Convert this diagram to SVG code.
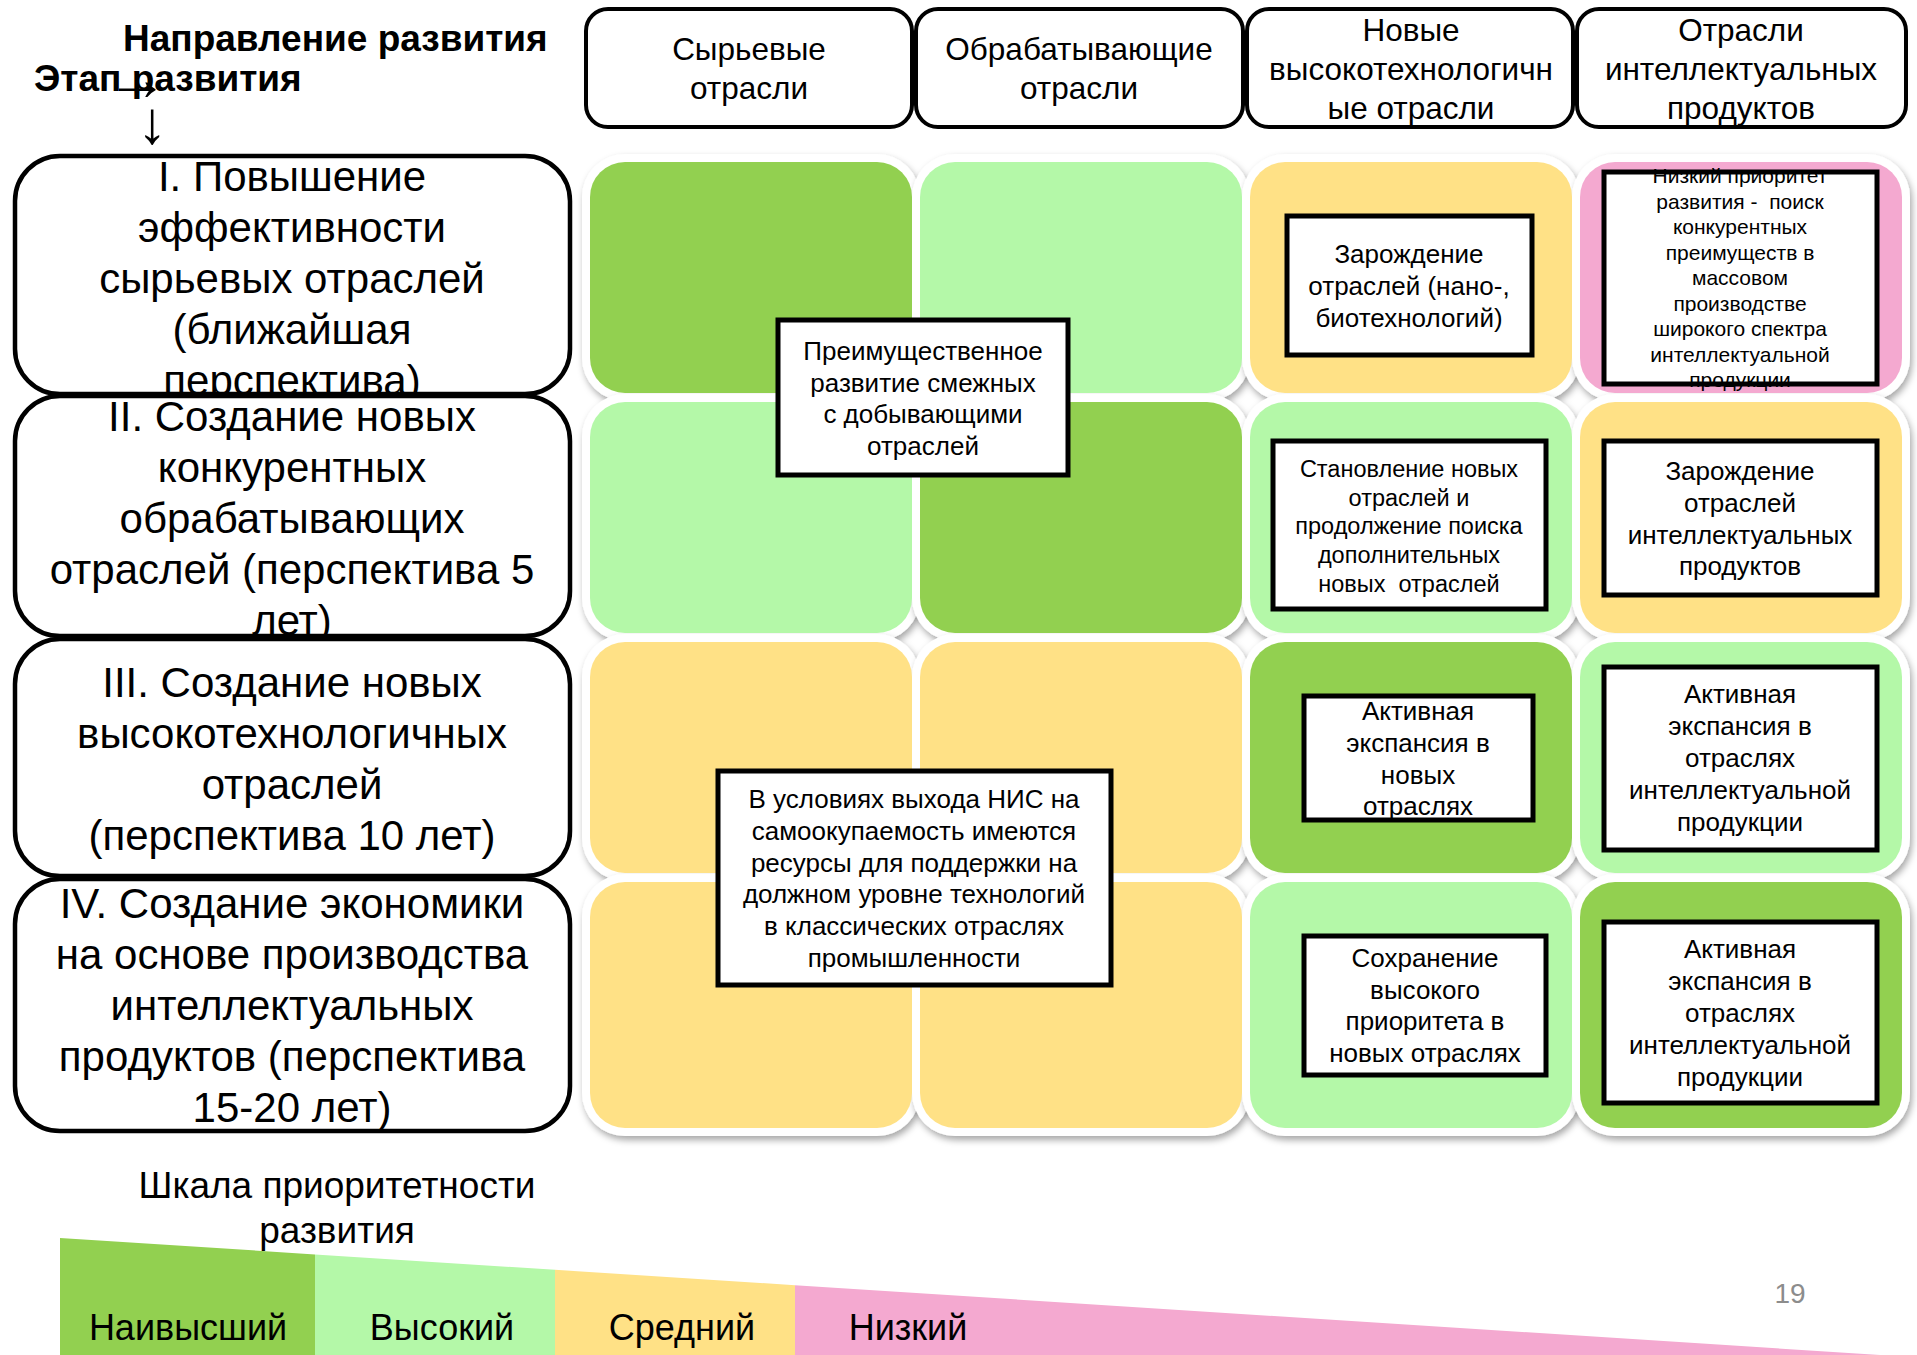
<svg xmlns="http://www.w3.org/2000/svg" width="1917" height="1355" viewBox="0 0 1917 1355">
<defs>
<filter id="sh" x="-10%" y="-10%" width="125%" height="125%">
<feDropShadow dx="2" dy="4" stdDeviation="3.5" flood-color="#000" flood-opacity="0.35"/>
</filter>
</defs>
<style>
text{font-family:"Liberation Sans",Arial,sans-serif;fill:#000}
.b{font-weight:bold;font-size:37px}
.hdr{fill:#fff;stroke:#000;stroke-width:4}
.row{fill:#fff;stroke:#000;stroke-width:4.5}
.frame{fill:#fff;filter:url(#sh)}
.dg{fill:#92D050}.lg{fill:#B4F8A8}.ye{fill:#FFE186}.pk{fill:#F4A9D0}
.tb{fill:#fff;stroke:#000;stroke-width:5}
.h31{font-size:31.5px;text-anchor:middle}
.r42{font-size:42px;text-anchor:middle}
.t26{font-size:26px;text-anchor:middle}
.t23{font-size:23.5px;text-anchor:middle}
.t21{font-size:21px;text-anchor:middle}
.lg36{font-size:36px;text-anchor:middle}
</style>

<g id="titles">
<text class="b" x="123" y="51">Направление развития</text>
<text class="b" x="34" y="91">Этап развития</text>
<text x="137" y="100" style="font-size:62px;text-anchor:middle">→</text>
<text x="152" y="143" style="font-size:60px;text-anchor:middle">↓</text>
</g>

<g id="col-headers">
<g id="col1"><rect class="hdr" x="586" y="9" width="326" height="118" rx="22"/>
<text class="h31" x="749"><tspan x="749" y="60">Сырьевые</tspan><tspan x="749" y="99">отрасли</tspan></text></g>
<g id="col2"><rect class="hdr" x="916" y="9" width="327" height="118" rx="22"/>
<text class="h31" x="1079"><tspan x="1079" y="60">Обрабатывающие</tspan><tspan x="1079" y="99">отрасли</tspan></text></g>
<g id="col3"><rect class="hdr" x="1247" y="9" width="326" height="118" rx="22"/>
<text class="h31" x="1411"><tspan x="1411" y="41">Новые</tspan><tspan x="1411" y="80">высокотехнологичн</tspan><tspan x="1411" y="119">ые отрасли</tspan></text></g>
<g id="col4"><rect class="hdr" x="1577" y="9" width="329" height="118" rx="22"/>
<text class="h31" x="1741"><tspan x="1741" y="41">Отрасли</tspan><tspan x="1741" y="80">интеллектуальных</tspan><tspan x="1741" y="119">продуктов</tspan></text></g>
</g>

<g id="row-headers">
<g id="stage1"><rect class="row" x="15" y="156" width="555" height="238" rx="45"/>
<text class="r42"><tspan x="292" y="191">I. Повышение</tspan><tspan x="292" y="242">эффективности</tspan><tspan x="292" y="293">сырьевых отраслей</tspan><tspan x="292" y="344">(ближайшая</tspan><tspan x="292" y="395">перспектива)</tspan></text></g>
<g id="stage2"><rect class="row" x="15" y="396" width="555" height="240" rx="45"/>
<text class="r42"><tspan x="292" y="431">II. Создание новых</tspan><tspan x="292" y="482">конкурентных</tspan><tspan x="292" y="533">обрабатывающих</tspan><tspan x="292" y="584">отраслей (перспектива 5</tspan><tspan x="292" y="635">лет)</tspan></text></g>
<g id="stage3"><rect class="row" x="15" y="639" width="555" height="237" rx="45"/>
<text class="r42"><tspan x="292" y="697">III. Создание новых</tspan><tspan x="292" y="748">высокотехнологичных</tspan><tspan x="292" y="799">отраслей</tspan><tspan x="292" y="850">(перспектива 10 лет)</tspan></text></g>
<g id="stage4"><rect class="row" x="15" y="879" width="555" height="252" rx="45"/>
<text class="r42"><tspan x="292" y="918">IV. Создание экономики</tspan><tspan x="292" y="969">на основе производства</tspan><tspan x="292" y="1020">интеллектуальных</tspan><tspan x="292" y="1071">продуктов (перспектива</tspan><tspan x="292" y="1122">15-20 лет)</tspan></text></g>
</g>

<g id="cell-frames">
<rect class="frame" x="582" y="154" width="338" height="247" rx="43"/>
<rect class="frame" x="912" y="154" width="338" height="247" rx="43"/>
<rect class="frame" x="1242" y="154" width="338" height="247" rx="43"/>
<rect class="frame" x="1572" y="154" width="338" height="247" rx="43"/>
<rect class="frame" x="582" y="394" width="338" height="247" rx="43"/>
<rect class="frame" x="912" y="394" width="338" height="247" rx="43"/>
<rect class="frame" x="1242" y="394" width="338" height="247" rx="43"/>
<rect class="frame" x="1572" y="394" width="338" height="247" rx="43"/>
<rect class="frame" x="582" y="634" width="338" height="247" rx="43"/>
<rect class="frame" x="912" y="634" width="338" height="247" rx="43"/>
<rect class="frame" x="1242" y="634" width="338" height="247" rx="43"/>
<rect class="frame" x="1572" y="634" width="338" height="247" rx="43"/>
<rect class="frame" x="582" y="874" width="338" height="262" rx="43"/>
<rect class="frame" x="912" y="874" width="338" height="262" rx="43"/>
<rect class="frame" x="1242" y="874" width="338" height="262" rx="43"/>
<rect class="frame" x="1572" y="874" width="338" height="262" rx="43"/>
</g>

<g id="cells">
<g id="c11"><rect class="dg" x="590" y="162" width="322" height="231" rx="35"/></g>
<g id="c12"><rect class="lg" x="920" y="162" width="322" height="231" rx="35"/></g>
<g id="c13"><rect class="ye" x="1250" y="162" width="322" height="231" rx="35"/></g>
<g id="c14"><rect class="pk" x="1580" y="162" width="322" height="231" rx="35"/></g>
<g id="c21"><rect class="lg" x="590" y="402" width="322" height="231" rx="35"/></g>
<g id="c22"><rect class="dg" x="920" y="402" width="322" height="231" rx="35"/></g>
<g id="c23"><rect class="lg" x="1250" y="402" width="322" height="231" rx="35"/></g>
<g id="c24"><rect class="ye" x="1580" y="402" width="322" height="231" rx="35"/></g>
<g id="c31"><rect class="ye" x="590" y="642" width="322" height="231" rx="35"/></g>
<g id="c32"><rect class="ye" x="920" y="642" width="322" height="231" rx="35"/></g>
<g id="c33"><rect class="dg" x="1250" y="642" width="322" height="231" rx="35"/></g>
<g id="c34"><rect class="lg" x="1580" y="642" width="322" height="231" rx="35"/></g>
<g id="c41"><rect class="ye" x="590" y="882" width="322" height="246" rx="35"/></g>
<g id="c42"><rect class="ye" x="920" y="882" width="322" height="246" rx="35"/></g>
<g id="c43"><rect class="lg" x="1250" y="882" width="322" height="246" rx="35"/></g>
<g id="c44"><rect class="dg" x="1580" y="882" width="322" height="246" rx="35"/></g>
</g>

<g id="notes">
<g id="n1"><rect class="tb" x="778" y="320" width="290" height="155"/>
<text class="t26"><tspan x="923" y="360">Преимущественное</tspan><tspan x="923" y="391.5">развитие смежных</tspan><tspan x="923" y="423">с добывающими</tspan><tspan x="923" y="454.5">отраслей</tspan></text></g>
<g id="n2"><rect class="tb" x="1287" y="216" width="245" height="139"/>
<text class="t26"><tspan x="1409" y="263">Зарождение</tspan><tspan x="1409" y="295">отраслей (нано-,</tspan><tspan x="1409" y="327">биотехнологий)</tspan></text></g>
<g id="n3"><rect class="tb" x="1604" y="172" width="273" height="212"/>
<text class="t21" xml:space="preserve"><tspan x="1740" y="183">Низкий приоритет</tspan><tspan x="1740" y="208.5">развития -  поиск</tspan><tspan x="1740" y="234">конкурентных</tspan><tspan x="1740" y="259.5">преимуществ в</tspan><tspan x="1740" y="285">массовом</tspan><tspan x="1740" y="310.5">производстве</tspan><tspan x="1740" y="336">широкого спектра</tspan><tspan x="1740" y="361.5">интеллектуальной</tspan><tspan x="1740" y="387">продукции</tspan></text></g>
<g id="n4"><rect class="tb" x="1273" y="441" width="273" height="168"/>
<text class="t23" xml:space="preserve"><tspan x="1409" y="477">Становление новых</tspan><tspan x="1409" y="505.7">отраслей и</tspan><tspan x="1409" y="534.4">продолжение поиска</tspan><tspan x="1409" y="563">дополнительных</tspan><tspan x="1409" y="592">новых  отраслей</tspan></text></g>
<g id="n5"><rect class="tb" x="1604" y="441" width="273" height="154"/>
<text class="t26"><tspan x="1740" y="480">Зарождение</tspan><tspan x="1740" y="512">отраслей</tspan><tspan x="1740" y="543.5">интеллектуальных</tspan><tspan x="1740" y="575">продуктов</tspan></text></g>
<g id="n6"><rect class="tb" x="1304" y="696" width="229" height="124"/>
<text class="t26"><tspan x="1418" y="720">Активная</tspan><tspan x="1418" y="752">экспансия в</tspan><tspan x="1418" y="783.5">новых</tspan><tspan x="1418" y="815">отраслях</tspan></text></g>
<g id="n7"><rect class="tb" x="1604" y="667" width="273" height="183"/>
<text class="t26"><tspan x="1740" y="703">Активная</tspan><tspan x="1740" y="735">экспансия в</tspan><tspan x="1740" y="767">отраслях</tspan><tspan x="1740" y="799">интеллектуальной</tspan><tspan x="1740" y="831">продукции</tspan></text></g>
<g id="n8"><rect class="tb" x="1304" y="936" width="242" height="139"/>
<text class="t26"><tspan x="1425" y="967">Сохранение</tspan><tspan x="1425" y="998.5">высокого</tspan><tspan x="1425" y="1030">приоритета в</tspan><tspan x="1425" y="1061.5">новых отраслях</tspan></text></g>
<g id="n9"><rect class="tb" x="1604" y="922" width="273" height="181"/>
<text class="t26"><tspan x="1740" y="958">Активная</tspan><tspan x="1740" y="990">экспансия в</tspan><tspan x="1740" y="1022">отраслях</tspan><tspan x="1740" y="1054">интеллектуальной</tspan><tspan x="1740" y="1086">продукции</tspan></text></g>
<g id="n10"><rect class="tb" x="718" y="771" width="393" height="214"/>
<text class="t26"><tspan x="914" y="808">В условиях выхода НИС на</tspan><tspan x="914" y="840">самоокупаемость имеются</tspan><tspan x="914" y="871.5">ресурсы для поддержки на</tspan><tspan x="914" y="903">должном уровне технологий</tspan><tspan x="914" y="935">в классических отраслях</tspan><tspan x="914" y="966.5">промышленности</tspan></text></g>
</g>

<g id="connectors"></g>

<g id="legend">
<text class="lg36" style="font-size:37px"><tspan x="337" y="1198">Шкала приоритетности</tspan><tspan x="337" y="1243">развития</tspan></text>
<polygon class="dg" points="60,1238 315,1254.4 315,1355 60,1355"/>
<polygon class="lg" points="315,1254.4 555,1269.8 555,1355 315,1355"/>
<polygon class="ye" points="555,1269.8 795,1285.2 795,1355 555,1355"/>
<polygon class="pk" points="795,1285.2 1880,1355 795,1355"/>
<text class="lg36" x="188" y="1340">Наивысший</text>
<text class="lg36" x="442" y="1340">Высокий</text>
<text class="lg36" x="682" y="1340">Средний</text>
<text class="lg36" x="908" y="1340">Низкий</text>
</g>

<text x="1790" y="1303" style="font-size:28px;text-anchor:middle;fill:#8c8c8c">19</text>
</svg>
